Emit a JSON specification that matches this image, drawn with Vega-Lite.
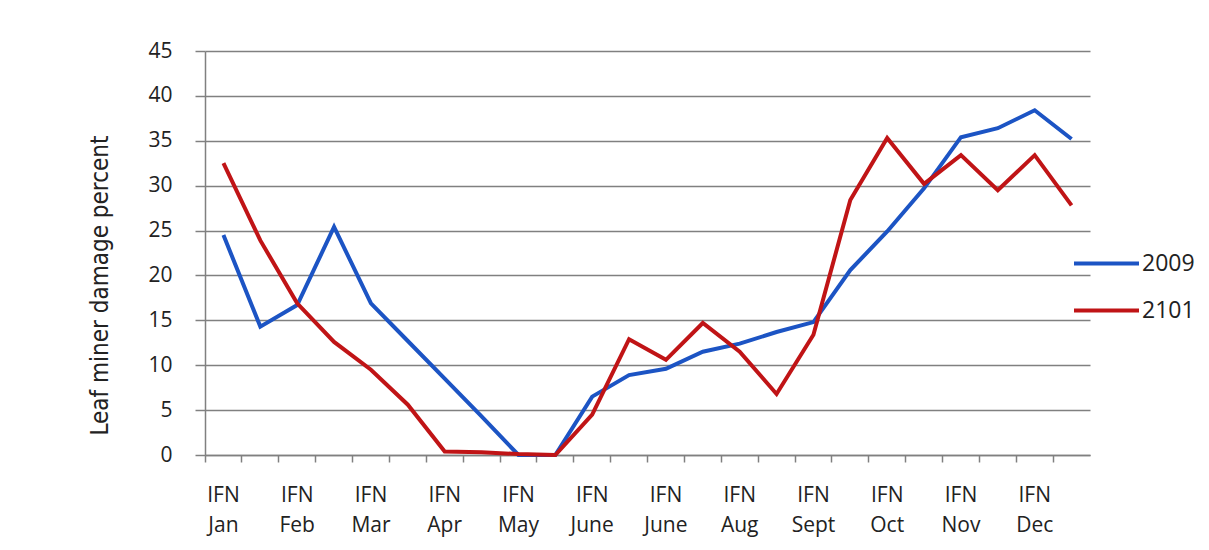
{
  "$schema": "https://vega.github.io/schema/vega-lite/v6.json",
  "autosize": {"type": "none"},
  "width": 885,
  "height": 404,
  "padding": {"left": 205, "top": 51, "right": 119, "bottom": 95},
  "background": "white",
  "data": {
    "values": [
      {"idx": 1, "year": "2009", "damage": 24.5}, {"idx": 2, "year": "2009", "damage": 14.3},
      {"idx": 3, "year": "2009", "damage": 16.7}, {"idx": 4, "year": "2009", "damage": 25.4},
      {"idx": 5, "year": "2009", "damage": 16.9}, {"idx": 6, "year": "2009", "damage": 12.7},
      {"idx": 7, "year": "2009", "damage": 8.5}, {"idx": 8, "year": "2009", "damage": 4.3},
      {"idx": 9, "year": "2009", "damage": 0}, {"idx": 10, "year": "2009", "damage": 0},
      {"idx": 11, "year": "2009", "damage": 6.5}, {"idx": 12, "year": "2009", "damage": 8.9},
      {"idx": 13, "year": "2009", "damage": 9.6}, {"idx": 14, "year": "2009", "damage": 11.5},
      {"idx": 15, "year": "2009", "damage": 12.4}, {"idx": 16, "year": "2009", "damage": 13.7},
      {"idx": 17, "year": "2009", "damage": 14.8}, {"idx": 18, "year": "2009", "damage": 20.6},
      {"idx": 19, "year": "2009", "damage": 24.9}, {"idx": 20, "year": "2009", "damage": 29.7},
      {"idx": 21, "year": "2009", "damage": 35.4}, {"idx": 22, "year": "2009", "damage": 36.4},
      {"idx": 23, "year": "2009", "damage": 38.4}, {"idx": 24, "year": "2009", "damage": 35.2},
      {"idx": 1, "year": "2101", "damage": 32.5}, {"idx": 2, "year": "2101", "damage": 23.9},
      {"idx": 3, "year": "2101", "damage": 16.9}, {"idx": 4, "year": "2101", "damage": 12.6},
      {"idx": 5, "year": "2101", "damage": 9.5}, {"idx": 6, "year": "2101", "damage": 5.6},
      {"idx": 7, "year": "2101", "damage": 0.4}, {"idx": 8, "year": "2101", "damage": 0.3},
      {"idx": 9, "year": "2101", "damage": 0.1}, {"idx": 10, "year": "2101", "damage": 0},
      {"idx": 11, "year": "2101", "damage": 4.5}, {"idx": 12, "year": "2101", "damage": 12.9},
      {"idx": 13, "year": "2101", "damage": 10.6}, {"idx": 14, "year": "2101", "damage": 14.7},
      {"idx": 15, "year": "2101", "damage": 11.5}, {"idx": 16, "year": "2101", "damage": 6.8},
      {"idx": 17, "year": "2101", "damage": 13.4}, {"idx": 18, "year": "2101", "damage": 28.4},
      {"idx": 19, "year": "2101", "damage": 35.3}, {"idx": 20, "year": "2101", "damage": 30.2},
      {"idx": 21, "year": "2101", "damage": 33.4}, {"idx": 22, "year": "2101", "damage": 29.5},
      {"idx": 23, "year": "2101", "damage": 33.4}, {"idx": 24, "year": "2101", "damage": 27.8}
    ]
  },
  "mark": {"type": "line", "strokeWidth": 4, "strokeJoin": "miter"},
  "encoding": {
    "x": {
      "field": "idx",
      "type": "ordinal",
      "scale": {"type": "band", "paddingInner": 0, "paddingOuter": 0},
      "axis": {
        "title": null,
        "bandPosition": 0,
        "grid": false,
        "labelAngle": 0,
        "labelExpr": "datum.value % 2 == 1 ? ['IFN', ['Jan','Feb','Mar','Apr','May','June','June','Aug','Sept','Oct','Nov','Dec'][(datum.value - 1) / 2]] : ''",
        "labelFont": "Open Sans",
        "labelFontSize": 21,
        "labelLineHeight": 30,
        "labelColor": "#222222",
        "labelPadding": 22,
        "labelBaseline": "top",
        "tickSize": 7,
        "tickColor": "#808080",
        "tickWidth": 1.5,
        "domainColor": "#808080",
        "domainWidth": 1.5
      }
    },
    "y": {
      "field": "damage",
      "type": "quantitative",
      "scale": {"domain": [0, 45], "nice": false},
      "axis": {
        "title": "Leaf miner damage percent",
        "titleFont": "DejaVu Sans Condensed, Roboto, sans-serif",
        "titleFontSize": 24,
        "titleFontWeight": "normal",
        "titleColor": "#222222",
        "titleX": -105,
        "titleY": 234,
        "titleAlign": "center",
        "titleBaseline": "middle",
        "values": [0, 5, 10, 15, 20, 25, 30, 35, 40, 45],
        "labelFont": "Open Sans",
        "labelFontSize": 21,
        "labelColor": "#222222",
        "labelPadding": 23,
        "tickSize": 10,
        "tickColor": "#808080",
        "tickWidth": 1.5,
        "gridColor": "#808080",
        "gridWidth": 1.5,
        "domainColor": "#808080",
        "domainWidth": 1.5
      }
    },
    "color": {
      "field": "year",
      "type": "nominal",
      "scale": {"domain": ["2009", "2101"], "range": ["#1c54c4", "#c01416"]},
      "legend": {
        "title": null,
        "orient": "none",
        "legendX": 867,
        "legendY": 178,
        "symbolType": "stroke",
        "symbolSize": 4225,
        "symbolStrokeWidth": 4,
        "labelFont": "Open Sans",
        "labelFontSize": 23,
        "labelColor": "#222222",
        "labelOffset": 1,
        "rowPadding": -23
      }
    }
  },
  "config": {"view": {"stroke": null}}
}
